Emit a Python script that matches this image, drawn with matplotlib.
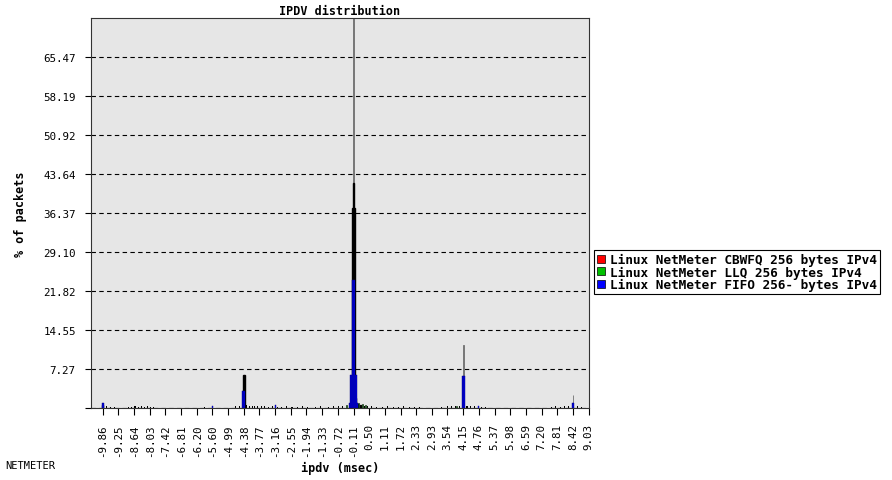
import matplotlib
matplotlib.use("Agg")
import matplotlib.pyplot as plt
from matplotlib.patches import Patch

# tick labels (msec) and y ticks (% of packets)
x_ticks = ["-9.86", "-9.25", "-8.64", "-8.03", "-7.42", "-6.81", "-6.20", "-5.60",
           "-4.99", "-4.38", "-3.77", "-3.16", "-2.55", "-1.94", "-1.33", "-0.72",
           "-0.11", "0.50", "1.11", "1.72", "2.33", "2.93", "3.54", "4.15",
           "4.76", "5.37", "5.98", "6.59", "7.20", "7.81", "8.42", "9.03"]
y_ticks = ["7.27", "14.55", "21.82", "29.10", "36.37", "43.64", "50.92", "58.19", "65.47"]

series_names = ["Linux NetMeter CBWFQ 256 bytes IPv4",
                "Linux NetMeter LLQ 256 bytes IPv4",
                "Linux NetMeter FIFO 256- bytes IPv4"]
series_colors = ["#ff0000", "#00c000", "#0000ff"]

# CBWFQ (drawn with black outlines)
cbwfq_x = [-9.86, -4.40, -4.36, -0.23, -0.19, -0.15, -0.11, -0.07, -0.03, 0.05, 0.17]
cbwfq_y = [0.5, 6.2, 6.2, 0.9, 1.8, 37.3, 42.0, 37.3, 1.8, 0.8, 0.6]

# LLQ
llq_x = [-0.11, 4.15, 8.42, -0.39, -0.27, 0.09, 0.25, 0.37, 3.90]
llq_y = [100.0, 11.7, 2.4, 0.6, 1.0, 0.9, 0.7, 0.5, 0.3]

# FIFO
fifo_x = [-9.88, -9.84, -5.60, -4.42, -4.38, -4.34, -3.16, -0.27, -0.23, -0.19, -0.15,
          -0.11, -0.07, -0.03, 0.01, 0.05, 4.11, 4.15, 4.19, 4.76, 8.40, 8.44]
fifo_y = [1.0, 1.0, 0.4, 3.2, 3.2, 3.2, 0.6, 1.0, 6.2, 6.2, 23.9,
          23.9, 23.9, 6.2, 6.2, 1.0, 6.0, 6.0, 6.0, 0.3, 1.0, 1.0]

# low level background counts
noise_x = [-9.70, -9.55, -9.40, -8.85, -8.75, -8.60, -8.45, -8.35, -8.25, -8.10, -8.00,
           -7.90, -5.90, -4.70, -4.55, -4.25, -4.15, -4.05, -3.95, -3.85, -3.70, -3.55,
           -3.40, -3.25, -3.05, -2.90, -2.70, -2.50, -2.30, -2.10, -1.90, -1.60, -1.40,
           -1.10, -0.90, -0.70, -0.55, 0.30, 0.45, 0.60, 0.80, 1.00, 1.20, 1.45, 1.65,
           1.85, 2.05, 2.25, 2.45, 3.30, 3.55, 3.70, 3.85, 4.00, 4.30, 4.45, 4.60, 4.85,
           5.00, 7.60, 7.75, 7.95, 8.10, 8.25, 8.60, 8.75]
noise_y = [0.3, 0.2, 0.2, 0.2, 0.2, 0.3, 0.2, 0.3, 0.2, 0.3, 0.2,
           0.2, 0.2, 0.3, 0.4, 0.5, 0.4, 0.4, 0.3, 0.3, 0.3, 0.3,
           0.2, 0.3, 0.2, 0.2, 0.3, 0.2, 0.2, 0.3, 0.2, 0.2, 0.3,
           0.2, 0.3, 0.3, 0.4, 0.4, 0.3, 0.3, 0.2, 0.2, 0.3, 0.2, 0.2,
           0.3, 0.2, 0.2, 0.2, 0.2, 0.3, 0.3, 0.3, 0.4, 0.4, 0.3, 0.3, 0.2,
           0.2, 0.2, 0.3, 0.2, 0.3, 0.3, 0.3, 0.2]


def main():
    plt.rcParams["font.family"] = "DejaVu Sans Mono"
    plt.rcParams["axes.unicode_minus"] = False

    fig = plt.figure(figsize=(8.92, 4.81), dpi=100)
    ax = fig.add_axes([91 / 892, 1 - 409 / 481, 498 / 892, 390 / 481])
    ax.set_facecolor("#e6e6e6")

    w = 0.04
    ax.bar(noise_x, noise_y, width=w, color="black", zorder=2)
    ax.bar(cbwfq_x, cbwfq_y, width=w, color=series_colors[0],
           edgecolor="black", linewidth=1.0, zorder=3)
    ax.bar(llq_x[:3], llq_y[:3], width=0.03, color="#707070",
           edgecolor="#707070", linewidth=0.6, zorder=2.5)
    ax.bar(llq_x[3:], llq_y[3:], width=w, color=series_colors[1],
           edgecolor="black", linewidth=0.4, zorder=3.5)
    ax.bar(fifo_x, fifo_y, width=w, color=series_colors[2],
           edgecolor="#000080", linewidth=0.3, zorder=4)

    ax.set_xlim(-10.31, 9.04)
    ax.set_ylim(0, 72.74)

    ax.set_xticks([float(t) for t in x_ticks])
    ax.set_xticklabels(x_ticks, rotation=90, fontsize=7.8)
    ax.set_yticks([0] + [float(t) for t in y_ticks])
    ax.set_yticklabels([""] + y_ticks, fontsize=7.8)
    ax.tick_params(axis="x", direction="out", length=5, pad=6)
    ax.tick_params(axis="y", direction="out", length=4, pad=7)

    ax.yaxis.grid(True, color="black", linestyle=(0, (4, 3)), linewidth=0.8)
    ax.set_axisbelow(True)
    for s in ax.spines.values():
        s.set_color("#333333")

    ax.set_title("IPDV distribution", fontsize=8.5, fontweight="bold", pad=3)
    ax.set_xlabel("ipdv (msec)", fontsize=8.5, fontweight="bold", labelpad=4)
    ax.set_ylabel("% of packets", fontsize=8.5, fontweight="bold", labelpad=12)

    handles = [Patch(facecolor=c, edgecolor="black", linewidth=0.5) for c in series_colors]
    leg = fig.legend(handles, series_names, loc="upper left",
                     bbox_to_anchor=(594 / 892, 1 - 251 / 481),
                     prop={"size": 9.2, "weight": "bold"},
                     handlelength=0.6, handleheight=0.6, handletextpad=0.4,
                     labelspacing=-0.05, borderpad=0.25, borderaxespad=0,
                     fancybox=False, framealpha=1)
    leg.get_frame().set_edgecolor("black")
    leg.get_frame().set_linewidth(0.8)

    fig.text(5 / 892, 1 - 466 / 481, "NETMETER", fontsize=7.5, va="center")

    fig.savefig("out.png", dpi=100)


if __name__ == "__main__":
    main()
